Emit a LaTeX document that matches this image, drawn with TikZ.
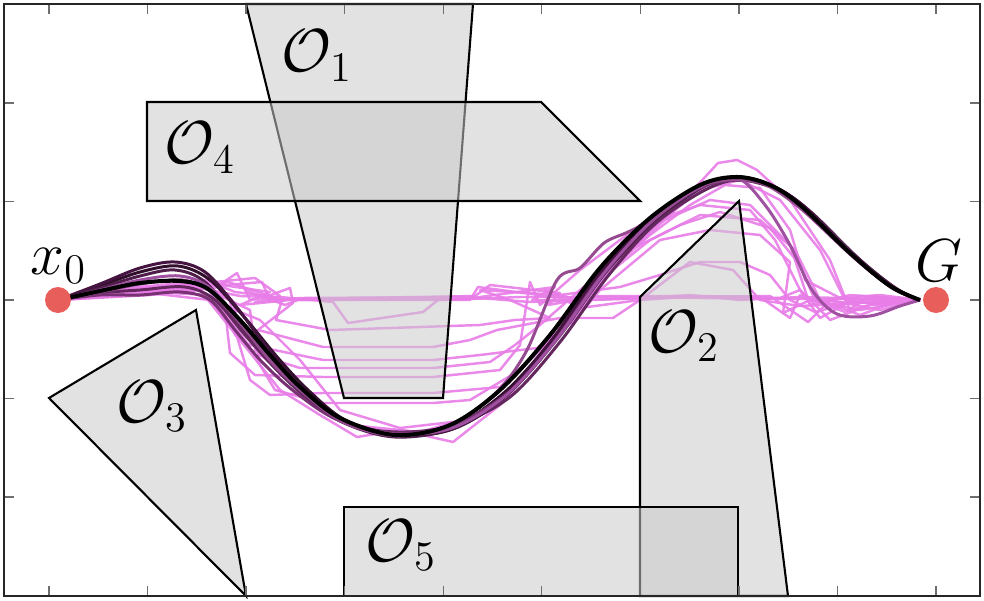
\documentclass[tikz,border=0pt]{standalone}
\usepackage{amsmath}
\begin{document}
\definecolor{pinktraj}{RGB}{232,125,232}
\definecolor{obsfill}{RGB}{203,203,203}
\definecolor{goalred}{RGB}{232,94,90}
\definecolor{framegray}{RGB}{38,38,38}
\definecolor{tickgray}{RGB}{110,110,110}
\definecolor{pA}{RGB}{50,15,45}
\definecolor{pB}{RGB}{80,30,75}
\definecolor{pC}{RGB}{100,40,95}
\definecolor{pD}{RGB}{120,50,115}
\definecolor{pE}{RGB}{70,20,65}
\definecolor{pF}{RGB}{160,80,160}
\definecolor{pG}{RGB}{150,75,145}
\begin{tikzpicture}[x=0.1mm,y=-0.1mm,
  obstacle/.style={draw=black, line width=0.6pt, fill=obsfill, fill opacity=0.54, line join=miter},
  pinkpath/.style={draw=pinktraj, line width=0.7pt, line join=round, draw opacity=0.9},
  purp/.style={line width=0.85pt, line join=round},
  mainpath/.style={draw=black, line width=1.15pt},
  lbl/.style={font=\fontsize{18}{20}\selectfont, inner sep=0pt, anchor=base west},
  endpt/.style={circle, fill=goalred, minimum size=2.6mm, inner sep=0pt},
  tickmark/.style={draw=tickgray, line width=0.4pt}]
\useasboundingbox (0,0) rectangle (984,600);
\fill[white] (0,0) rectangle (984,600);

% pink sampled trajectories
\draw[pinkpath] (58,300)--(110,294)--(170,291)--(215,288)--(237,273)--(250,300)--(262,298)--(300,300)--(470,299)--(520,297)--(600,297)--(700,298)--(800,299)--(870,299)--(920,300);
\draw[pinkpath] (58,300)--(120,296)--(190,286)--(240,296)--(280,297)--(333,302)--(348,323)--(423,312)--(438,300)--(480,298)--(530,302)--(640,298)--(690,295)--(740,300)--(800,297)--(920,300);
\draw[pinkpath] (58,300)--(120,292)--(185,285)--(205,280)--(235,292)--(268,296)--(290,288)--(293,303)--(258,330)--(323,347)--(433,347)--(470,340)--(497,330)--(560,318)--(613,318)--(640,300)--(690,262)--(733,270)--(760,300)--(800,306)--(860,303)--(920,300);
\draw[pinkpath] (58,300)--(130,288)--(190,282)--(230,300)--(235,335)--(250,345)--(323,360)--(433,360)--(480,355)--(537,348)--(575,320)--(600,290)--(660,240)--(710,230)--(760,235)--(790,262)--(783,313)--(810,300)--(860,310)--(920,300);
\draw[pinkpath] (58,300)--(140,287)--(205,285)--(225,310)--(230,353)--(255,375)--(323,377)--(433,377)--(500,370)--(520,345)--(530,282)--(540,305)--(580,270)--(640,225)--(700,205)--(750,210)--(775,240)--(800,290)--(830,320)--(870,305)--(920,300);
\draw[pinkpath] (58,300)--(140,290)--(200,290)--(235,330)--(250,380)--(270,395)--(323,393)--(433,393)--(500,387)--(540,350)--(570,310)--(610,262)--(660,222)--(710,200)--(750,205)--(790,245)--(810,305)--(850,295)--(920,300);
\draw[pinkpath] (58,300)--(150,292)--(210,295)--(245,340)--(275,390)--(323,403)--(433,403)--(470,400)--(520,370)--(560,330)--(600,280)--(650,240)--(700,215)--(760,220)--(795,250)--(820,300)--(860,315)--(900,300)--(920,300);
\draw[pinkpath] (58,300)--(150,295)--(200,290)--(240,340)--(280,390)--(320,415)--(357,437)--(400,430)--(453,442)--(500,405)--(540,360)--(580,310)--(620,260)--(670,215)--(718,163)--(737,160)--(757,170)--(790,200)--(830,260)--(850,310)--(890,300)--(920,300);
\draw[pinkpath] (58,300)--(140,292)--(210,300)--(260,320)--(300,360)--(340,410)--(400,428)--(470,420)--(520,380)--(560,330)--(600,280)--(650,230)--(700,190)--(740,180)--(780,200)--(820,250)--(845,300)--(880,305)--(920,300);
\draw[pinkpath] (58,300)--(120,295)--(180,290)--(215,284)--(270,292)--(240,305)--(290,300)--(470,300)--(478,287)--(577,300)--(545,290)--(580,308)--(640,300)--(700,296)--(780,298)--(800,290)--(820,318)--(860,296)--(920,300);
\draw[pinkpath] (58,300)--(130,294)--(195,290)--(228,282)--(282,300)--(276,320)--(330,330)--(480,325)--(515,320)--(550,318)--(510,300)--(480,290)--(560,295)--(620,287)--(660,275)--(700,262)--(740,262)--(770,275)--(790,300)--(815,312)--(860,300)--(920,300);
\draw[pinkpath] (58,300)--(130,292)--(200,286)--(250,310)--(255,350)--(290,380)--(350,425)--(420,432)--(480,415)--(530,370)--(570,320)--(610,270)--(650,235)--(690,205)--(725,185)--(760,188)--(790,230)--(805,280)--(840,298)--(880,295)--(920,300);
\draw[pinkpath] (58,300)--(125,293)--(190,288)--(262,282)--(270,300)--(245,290)--(285,305)--(300,299)--(475,296)--(490,285)--(560,293)--(548,305)--(600,296)--(650,296)--(760,297)--(790,318)--(800,295)--(845,312)--(870,297)--(920,300);
\draw[pinkpath] (58,300)--(135,290)--(205,283)--(255,278)--(280,296)--(255,302)--(300,298)--(480,297)--(555,287)--(532,300)--(590,300)--(680,297)--(770,296)--(808,322)--(830,300)--(880,310)--(920,300);
\draw[pinkpath] (58,300)--(130,289)--(200,284)--(232,300)--(240,330)--(268,345)--(258,355)--(300,368)--(433,368)--(490,362)--(515,345)--(540,325)--(580,290)--(630,250)--(680,225)--(720,212)--(770,228)--(800,265)--(815,300)--(850,303)--(920,300);

% obstacles
\path[obstacle] (246,4) -- (473,4) -- (443,398) -- (344,398) -- cycle;
\path[obstacle] (640,596) -- (640,297) -- (739,201) -- (788,596) -- cycle;
\path[obstacle] (49,398) -- (196,310) -- (246,596) -- cycle;
\path[obstacle] (147,102) -- (541,102) -- (640,201) -- (147,201) -- cycle;
\path[obstacle] (344,507) rectangle (738,596);

% dark purple trajectories
\draw[purp, pA] plot[smooth, tension=0.55] coordinates {(58,300)(100,286)(140,272)(178,266)(210,280)(245,318)(278,358)(308,390)(345,420)(395,436)(452,427)(505,392)(556,335)(605,268)(652,218)(702,185)(740,177)(775,187)(808,210)(858,258)(895,288)(920,300)};
\draw[purp, pB] plot[smooth, tension=0.55] coordinates {(58,300)(100,288)(140,276)(175,270)(205,282)(238,322)(268,360)(300,392)(342,422)(395,437)(455,428)(507,395)(558,338)(606,272)(655,222)(703,187)(740,178)(778,189)(812,213)(860,260)(897,289)(920,300)};
\draw[purp, pC] plot[smooth, tension=0.55] coordinates {(58,300)(100,293)(140,290)(185,287)(215,300)(245,335)(275,368)(305,395)(345,423)(398,432)(455,425)(510,397)(560,342)(608,276)(655,224)(705,190)(740,180)(780,191)(815,217)(862,263)(898,290)(920,300)};
\draw[purp, pD] plot[smooth, tension=0.55] coordinates {(58,300)(100,295)(140,295)(180,292)(210,300)(235,330)(262,362)(295,392)(338,420)(395,433)(450,426)(505,395)(555,340)(603,270)(652,220)(700,188)(738,180)(776,188)(808,210)(855,258)(893,288)(920,300)};
\draw[purp, pE] plot[smooth, tension=0.55] coordinates {(58,300)(100,284)(140,268)(175,262)(205,272)(235,305)(265,345)(297,383)(340,418)(395,434)(450,430)(500,400)(548,345)(598,275)(648,222)(698,187)(735,178)(772,186)(806,208)(855,258)(893,288)(920,300)};
\draw[purp, pF] plot[smooth, tension=0.55] coordinates {(58,300)(100,290)(140,280)(180,276)(210,288)(242,325)(272,362)(303,392)(343,421)(396,434)(452,428)(505,396)(556,340)(605,272)(652,221)(700,187)(737,178)(765,205)(790,245)(812,290)(837,314)(870,316)(900,306)(920,300)};
\draw[purp, pG] plot[smooth, tension=0.5] coordinates {(58,300)(100,292)(140,284)(182,280)(212,292)(244,328)(274,365)(305,394)(345,423)(396,436)(450,426)(497,392)(527,350)(557,280)(580,268)(604,243)(628,232)(655,218)(690,190)(725,180)(762,183)(800,208)(852,256)(892,288)(920,300)};

% main trajectory
\draw[mainpath] plot[smooth, tension=0.55] coordinates {(58,300)(100,291)(140,283)(180,281)(208,289)(240,320)(270,355)(300,387)(340,418)(395,435)(450,425)(500,390)(550,335)(600,268)(650,218)(700,185)(737,177)(770,185)(800,205)(850,253)(890,286)(920,300)};

% ticks
\foreach \k in {0,...,9} {
  \draw[tickmark] ({49+98.55*\k},596) -- ++(0,-10);
  \draw[tickmark] ({49+98.55*\k},4) -- ++(0,10);
}
\foreach \k in {-2,...,2} {
  \draw[tickmark] (4,{300+98.55*\k}) -- ++(10,0);
  \draw[tickmark] (980,{300+98.55*\k}) -- ++(-10,0);
}
\draw[framegray, line width=0.45pt] (4,4) rectangle (980,596);

% start and goal
\node[endpt] (start) at (58,300) {};
\node[endpt] (goal) at (936,300) {};
\node[lbl] (lx0) at (30,274) {$x_0$};
\node[lbl] (lG) at (915,281) {$G$};

% obstacle labels
\node[lbl] (l1) at (281,72) {$\mathcal{O}_1$};
\node[lbl] (l2) at (648,352) {$\mathcal{O}_2$};
\node[lbl] (l3) at (116,422) {$\mathcal{O}_3$};
\node[lbl] (l4) at (164,164) {$\mathcal{O}_4$};
\node[lbl] (l5) at (365,561) {$\mathcal{O}_5$};
\end{tikzpicture}
\end{document}
